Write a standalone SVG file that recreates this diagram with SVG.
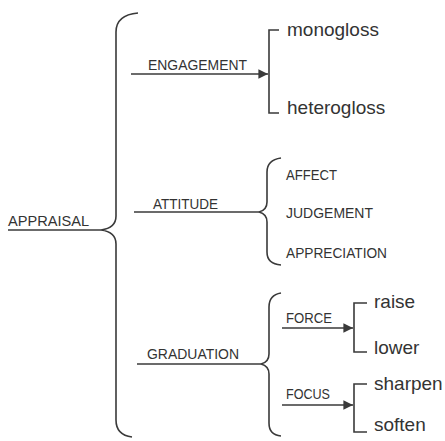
<svg xmlns="http://www.w3.org/2000/svg" width="445" height="441" viewBox="0 0 445 441">
<defs>
<style>
.ln{fill:none;stroke:#3a3a3a;stroke-width:1.6}
.t{font-family:"Liberation Sans",Arial,sans-serif;fill:#333}
.cap{font-size:15px}
.big{font-size:19px}
</style>
<marker id="ah" viewBox="0 0 10 10" refX="10" refY="5" markerWidth="6" markerHeight="6" orient="auto" markerUnits="strokeWidth">
<path d="M0,0 L10,5 L0,10 z" fill="#3a3a3a"/>
</marker>
</defs>
<rect width="445" height="441" fill="#fff"/>
<g id="connectors">
<path class="ln" d="M138,13 Q116,15 116,32 L116,216 Q116,228 101,230 Q116,232 116,244 L116,420 Q116,435 132,437"/>
<line class="ln" x1="8" y1="230" x2="101" y2="230"/>
<line class="ln" x1="131" y1="74" x2="268" y2="74" marker-end="url(#ah)"/>
<path class="ln" d="M279,30 L269,30 L269,113 L279,113"/>
<line class="ln" x1="134" y1="212" x2="259" y2="212"/>
<path class="ln" d="M281,158 Q267,160 267,172 L267,202 Q267,210 259,212 Q267,214 267,222 L267,252 Q267,264 281,265"/>
<line class="ln" x1="137" y1="364" x2="261" y2="364"/>
<path class="ln" d="M281,293 Q269,295 269,307 L269,354 Q269,362 261,364 Q269,366 269,374 L269,423 Q269,435 281,436"/>
<line class="ln" x1="282" y1="328" x2="353" y2="328" marker-end="url(#ah)"/>
<path class="ln" d="M367,303 L354,303 L354,352 L367,352"/>
<line class="ln" x1="282" y1="405" x2="353" y2="405" marker-end="url(#ah)"/>
<path class="ln" d="M367,384 L354,384 L354,432 L367,432"/>
</g>
<g id="appraisal"><text class="t cap" x="8" y="226" textLength="81" lengthAdjust="spacingAndGlyphs">APPRAISAL</text></g>
<g id="engagement"><text class="t cap" x="148" y="70" textLength="99" lengthAdjust="spacingAndGlyphs">ENGAGEMENT</text></g>
<g id="monogloss"><text class="t big" x="287" y="36">monogloss</text></g>
<g id="heterogloss"><text class="t big" x="287" y="114">heterogloss</text></g>
<g id="attitude"><text class="t cap" x="153" y="209" textLength="65" lengthAdjust="spacingAndGlyphs">ATTITUDE</text></g>
<g id="affect"><text class="t cap" x="286" y="180" textLength="51" lengthAdjust="spacingAndGlyphs">AFFECT</text></g>
<g id="judgement"><text class="t cap" x="286" y="218" textLength="87" lengthAdjust="spacingAndGlyphs">JUDGEMENT</text></g>
<g id="appreciation"><text class="t cap" x="286" y="258" textLength="101" lengthAdjust="spacingAndGlyphs">APPRECIATION</text></g>
<g id="graduation"><text class="t cap" x="147" y="359" textLength="92" lengthAdjust="spacingAndGlyphs">GRADUATION</text></g>
<g id="force"><text class="t cap" x="286" y="323" textLength="46" lengthAdjust="spacingAndGlyphs">FORCE</text></g>
<g id="raise"><text class="t big" x="374" y="308">raise</text></g>
<g id="lower"><text class="t big" x="374" y="354">lower</text></g>
<g id="focus"><text class="t cap" x="286" y="399" textLength="44" lengthAdjust="spacingAndGlyphs">FOCUS</text></g>
<g id="sharpen"><text class="t big" x="374" y="390">sharpen</text></g>
<g id="soften"><text class="t big" x="374" y="431">soften</text></g>
</svg>
